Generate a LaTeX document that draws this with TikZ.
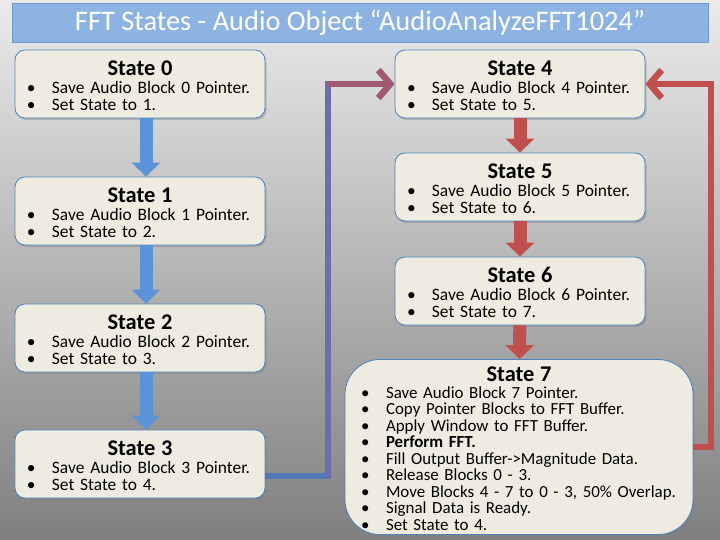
\documentclass[tikz,border=0pt]{standalone}
\usepackage{fontspec}
\setmainfont{Carlito}
\usetikzlibrary{arrows.meta,shadows}
\definecolor{boxfill}{HTML}{EEECE1}
\definecolor{boxline}{HTML}{4F81BD}
\definecolor{titlefill}{HTML}{8DB3E2}
\definecolor{titleline}{HTML}{6F9AD0}
\definecolor{bluearr}{HTML}{5B93D8}
\definecolor{redarr}{HTML}{C0504D}
\definecolor{loopa}{HTML}{5478B8}
\definecolor{loopb}{HTML}{6B6FA5}
\definecolor{loopc}{HTML}{A05873}
\newcommand\sttl[1]{\makebox[\hsize]{\fontsize{22.5}{22}\selectfont\bfseries\rule{0pt}{18bp}#1}}
\newcommand\bul{\makebox[25bp][l]{•}}
\begin{document}
\begin{tikzpicture}[x=1bp, y=-1bp,
    titlebar/.style={draw=titleline, fill=titlefill, minimum width=696bp, minimum height=39bp, text=white, font=\fontsize{28.5}{30}\selectfont},
    statebox/.style={draw=boxline, line width=0.8bp, fill=boxfill, rounded corners=10bp, text width=226bp, inner xsep=12bp, inner ysep=1bp, minimum height=68bp, align=left, font=\fontsize{17.5}{16.6}\selectfont, drop shadow={opacity=0.4, shadow xshift=1.5bp, shadow yshift=-2bp}},
    bigstate/.style={statebox, rounded corners=35bp, text width=316bp, inner xsep=16bp, minimum height=175bp, font=\fontsize{17}{16.6}\selectfont},
    bluestep/.style={draw=bluearr, line width=13bp, -{Triangle[width=28bp, length=14bp]}},
    redstep/.style={bluestep, draw=redarr},
    loopline/.style={line width=6.5bp},
    looptip/.style={-{Straight Barb[length=12bp, width=28bp]}}]
        \shade[top color=black!8, bottom color=black!50] (0, 0) rectangle (720, 540);
        \useasboundingbox (0, 0) rectangle (720, 540);
        \node[titlebar] (title) at (360, 23) {FFT States - Audio Object “AudioAnalyzeFFT1024”};
        \node[statebox] (s0) at (140, 84) {\sttl{State 0}\\[1.5bp] \bul Save Audio Block 0 Pointer.\\ \bul Set State to 1.};
        \node[statebox] (s1) at (140, 211) {\sttl{State 1}\\[1.5bp] \bul Save Audio Block 1 Pointer.\\ \bul Set State to 2.};
        \node[statebox] (s2) at (140, 338) {\sttl{State 2}\\[1.5bp] \bul Save Audio Block 2 Pointer.\\ \bul Set State to 3.};
        \node[statebox] (s3) at (140, 464) {\sttl{State 3}\\[1.5bp] \bul Save Audio Block 3 Pointer.\\ \bul Set State to 4.};
        \node[statebox] (s4) at (520, 84) {\sttl{State 4}\\[1.5bp] \bul Save Audio Block 4 Pointer.\\ \bul Set State to 5.};
        \node[statebox] (s5) at (520, 187) {\sttl{State 5}\\[1.5bp] \bul Save Audio Block 5 Pointer.\\ \bul Set State to 6.};
        \node[statebox] (s6) at (520, 291) {\sttl{State 6}\\[1.5bp] \bul Save Audio Block 6 Pointer.\\ \bul Set State to 7.};
        \node[bigstate] (s7) at (519, 447) {\sttl{State 7}\\ \bul Save Audio Block 7 Pointer.\\ \bul Copy Pointer Blocks to FFT Buffer.\\ \bul Apply Window to FFT Buffer.\\ \bul \textbf{Perform FFT.}\\ \bul Fill Output Buffer->Magnitude Data.\\ \bul Release Blocks 0 - 3.\\ \bul Move Blocks 4 - 7 to 0 - 3, 50\% Overlap.\\ \bul Signal Data is Ready.\\ \bul Set State to 4.};
        \draw[bluestep] ([xshift=6bp]s0.south) -- ([xshift=6bp]s1.north);
        \draw[bluestep] ([xshift=6bp]s1.south) -- ([xshift=6bp]s2.north);
        \draw[bluestep] ([xshift=6bp]s2.south) -- ([xshift=6bp]s3.north);
        \draw[redstep] (s4) -- (s5);
        \draw[redstep] (s5) -- (s6);
        \draw[redstep] (s6) -- (s7);
        \coordinate (la) at (328, 476);
        \coordinate (lb) at (328, 84);
        \coordinate (rb) at (711, 84);
        \draw[loopline, loopb, line cap=rect] (la) -- (lb);
        \draw[loopline, loopa] (s3.east |- la) -- (la);
        \draw[loopline, loopc, looptip] (lb) -- (lb -| s4.west);
        \draw[loopline, redarr, looptip] (s7.east) -- (s7.east -| rb) -- (rb) -- (rb -| s4.east);
    \end{tikzpicture}
\end{document}
